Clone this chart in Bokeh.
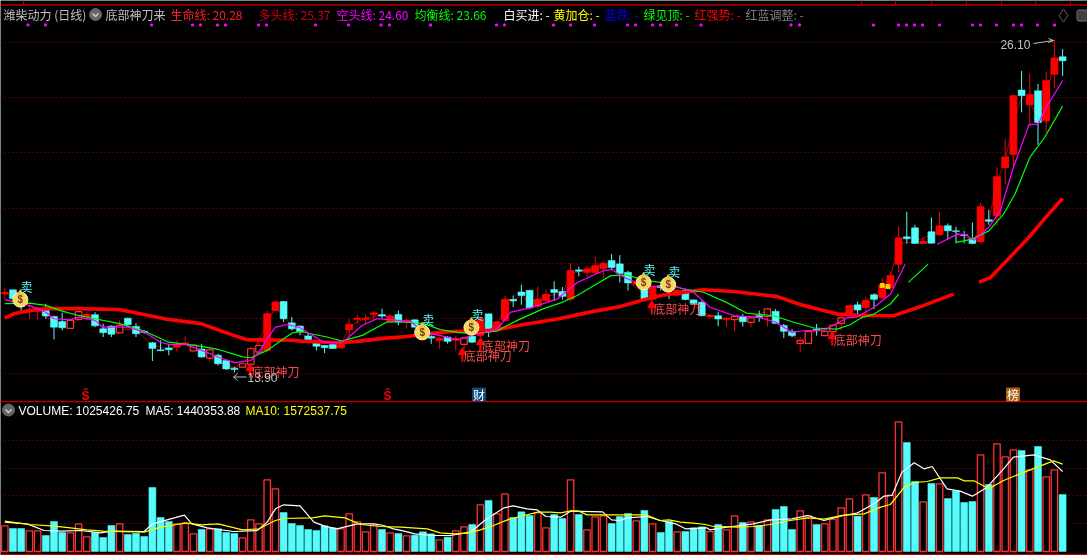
from bokeh.plotting import figure
from bokeh.models import Label, FixedTicker, Range1d, Grid
from bokeh.core.properties import value
from bokeh.embed import file_html
from bokeh.resources import INLINE
import numpy as np

nan = float("nan")

opens = [16.79,16.93,16.54,16.15,16.15,16.17,15.95,15.77,15.52,15.85,15.95,16.02,15.50,15.60,15.35,15.89,15.59,15.41,14.99,14.73,
14.80,14.83,14.93,14.69,14.76,14.43,14.53,14.34,14.06,14.10,14.20,14.65,14.71,16.17,16.50,15.72,15.60,15.24,14.98,14.89,
14.93,14.80,15.47,15.85,15.85,16.03,16.02,15.75,16.03,15.75,15.83,15.56,15.22,15.08,15.20,15.10,14.93,15.23,15.26,16.05,
15.44,15.81,16.58,16.85,16.91,16.33,16.54,16.94,16.87,16.59,17.66,17.57,17.57,17.72,18.00,17.88,17.57,17.14,16.98,16.59,
17.08,17.08,16.74,16.90,16.56,16.47,15.95,15.98,15.85,15.84,15.95,15.74,15.98,15.96,16.14,15.62,15.40,14.97,14.97,15.49,
15.25,15.40,15.70,15.98,16.38,16.29,16.75,16.65,17.02,17.87,18.87,19.20,18.63,19.06,18.95,19.28,19.09,18.95,18.80,18.70,
19.50,19.64,21.41,21.90,24.25,23.71,24.22,23.12,24.83,25.47]
highs = [17.00,16.93,16.60,16.36,16.32,16.42,15.98,16.09,15.85,16.15,16.11,16.11,15.69,15.63,15.81,15.91,15.71,15.45,15.02,15.08,
14.93,15.08,15.22,14.93,14.95,14.77,14.59,14.36,14.12,14.24,14.83,15.20,16.17,16.54,16.52,15.93,15.62,15.38,15.00,14.91,
14.95,14.95,15.87,16.02,16.05,16.15,16.24,16.03,16.17,15.87,15.85,15.60,15.26,15.20,15.23,15.26,15.20,15.30,15.95,16.05,
15.78,16.72,16.72,17.12,16.93,17.05,16.93,17.24,17.03,17.91,17.78,17.81,18.14,17.94,18.24,18.20,17.63,17.29,17.00,17.08,
17.10,17.20,16.96,16.98,16.58,16.53,16.04,16.13,15.92,15.98,16.04,15.93,16.17,16.25,16.23,15.68,15.49,15.19,15.43,15.68,
15.43,15.66,15.98,16.39,16.50,16.65,16.80,17.36,17.57,19.24,19.79,19.31,18.83,19.58,19.79,19.36,19.24,19.09,19.39,20.11,
19.86,21.42,22.45,24.04,24.95,24.86,24.47,24.93,26.10,25.75]
lows = [16.60,16.60,16.11,15.87,15.85,15.87,15.11,15.44,15.50,15.83,15.81,15.56,15.20,15.20,15.32,15.56,15.20,15.32,14.32,14.68,
14.53,14.67,14.89,14.67,14.44,14.32,14.16,14.00,13.90,14.08,14.15,14.63,14.65,16.15,15.75,15.44,15.26,15.05,14.71,14.61,
14.76,14.78,15.08,15.69,15.69,15.81,15.87,15.72,15.63,15.50,15.54,15.20,14.95,14.77,14.95,14.71,14.71,14.98,15.20,15.20,
15.40,15.75,16.30,16.38,16.24,16.24,16.50,16.52,16.57,16.50,17.42,17.39,17.51,17.36,17.69,17.20,16.90,17.08,16.56,16.56,
16.90,16.59,16.72,16.55,16.41,15.96,15.86,15.59,15.58,15.41,15.58,15.56,15.76,15.58,15.68,15.16,15.19,14.64,14.95,15.25,
15.23,15.25,15.46,15.90,16.04,15.92,16.22,16.60,16.90,17.57,18.63,18.61,18.61,18.62,18.90,18.79,18.63,18.63,18.60,18.63,
19.31,19.28,20.80,21.42,23.43,22.94,22.24,22.70,24.32,24.77]
closes = [16.83,16.60,16.32,16.20,16.20,15.97,15.56,15.54,15.81,16.13,16.03,15.61,15.36,15.30,15.63,15.65,15.32,15.37,14.78,14.70,
14.73,14.89,14.98,14.90,14.47,14.73,14.22,14.03,14.01,14.22,14.77,14.89,16.05,16.48,15.87,15.50,15.38,15.10,14.86,14.81,
14.78,14.93,15.66,15.89,15.89,16.08,15.97,15.97,15.75,15.81,15.56,15.26,15.16,15.14,15.04,15.14,15.16,15.01,15.87,15.50,
15.75,16.58,16.52,16.72,16.27,16.58,16.76,16.83,16.69,17.63,17.61,17.69,17.81,17.90,17.75,17.53,17.18,17.20,16.59,17.04,
17.02,17.04,16.90,16.57,16.43,15.98,15.98,15.86,15.88,15.96,15.76,15.90,15.92,16.23,15.70,15.41,15.25,15.07,15.41,15.43,
15.41,15.64,15.90,16.35,16.19,16.53,16.58,17.08,17.45,18.83,18.80,18.63,18.70,18.64,19.27,19.09,19.07,18.92,18.63,19.97,
19.44,21.07,21.80,24.04,24.04,24.08,23.06,24.59,25.42,25.32]
volume_k = [462,414,414,372,372,288,540,342,336,498,264,342,252,468,498,306,324,270,1152,612,
540,498,504,318,396,408,408,342,324,246,570,498,1290,1128,702,504,468,396,378,462,
426,408,678,534,354,474,396,336,324,282,294,354,318,210,258,372,444,486,840,918,
678,1038,612,714,648,696,426,666,594,1290,666,390,624,642,504,630,684,552,738,498,
342,540,354,360,426,444,360,486,390,642,522,534,468,570,756,810,396,732,642,486,
498,582,786,948,636,1020,972,1416,1014,2334,1962,1260,894,1224,1218,954,1092,882,900,1740,
1206,1938,1704,1830,1818,1470,1890,1344,1470,1026]
hollow_days = [8,9,14,23,25,29,30,31,56,89,91,93,97,98,100,101,102]

life_day = [0,1.1,3.1,4.8,8.8,13.9,16.5,19.8,23.9,27.9,29.6,35.2,36,40.9,42.9,46.2,49.1,51.9,55.2,57.6,60,63.3,67.4,71.8,75.1,77.5,80,85.2,88.9,94.2,97,101.5,104,108.4,112,115.7,nan,118.8,120.2,122.2,124.7,127.1,129]
life_val = [15.89,16.05,16.17,16.24,16.24,16.21,16.05,15.85,15.69,15.26,15.10,15.08,15.05,14.99,15.04,15.15,15.22,15.34,15.41,15.38,15.47,15.66,15.86,16.14,16.32,16.53,16.72,16.93,16.87,16.68,16.39,16.04,16.00,15.98,16.35,16.77,nan,17.20,17.38,18.00,18.79,19.64,20.28]
long_day = [0,2,4,6,8,10,12,14,16,18,20,22,24,26,28,30,32,33,35,37,39,41,42,44,46,48,50,52,54,56,58,60,61,63,64,66,68,69,71,73,75,76,78,79,81,83,85,87,90,93,95,97,99,101,103,105,107,108,109,111,113,115,118,119,120,121,122,123,124,125,126,127,128,129]
long_val = [16.8,16.5,16.2,15.7,15.65,16.0,15.5,15.5,15.45,14.9,14.75,14.95,14.6,14.3,14.05,14.5,15.7,16.3,15.6,15.15,14.85,14.9,15.6,15.9,16.0,15.85,15.7,15.2,15.1,15.05,15.6,15.65,16.3,16.75,16.4,16.7,16.8,17.5,17.7,17.85,17.6,17.25,16.75,17.0,17.05,16.7,16.1,15.9,15.85,16.15,15.5,15.05,15.45,15.6,16.25,16.5,17.0,17.4,18.6,18.7,18.95,19.15,18.75,19.1,19.45,20.9,21.65,23.1,23.98,23.8,23.2,23.98,25.38,25.37]
short_day = [0,3,5,6,8,9,11,12,14,15,17,19,20,22,24,26,28,30,31,32,33,34.5,36,38.9,40.9,41.5,43.6,45.4,47.9,49.5,51.1,53,55.2,57.6,60,61.7,64.1,67.4,69.8,73,74,75.5,77,78.7,81.6,84,86,89,92,94,96,97.4,100,102.7,104,106,108,109.8,nan,113.7,116.2,117.2,118.2,120,121.4,123,124.9,126,127,129]
short_val = [16.57,16.36,16.11,15.87,15.83,15.93,15.81,15.56,15.56,15.56,15.38,15.01,14.93,14.93,14.71,14.47,14.26,14.34,14.65,15.14,15.56,15.66,15.54,15.01,14.98,15.08,15.63,15.87,15.81,15.77,15.38,15.26,15.10,15.32,15.47,16.11,16.27,16.60,17.20,17.63,17.67,17.39,17.20,17.06,17.08,16.84,16.29,15.98,15.92,15.74,15.37,15.43,15.46,15.90,15.94,16.29,16.77,17.87,nan,18.60,18.97,18.95,18.75,19.22,19.83,21.41,22.98,23.00,23.61,24.60]
bal_day = [0,3,5,7,9,11,14,17,20,24,26,29,30,32,34,35,36,37.3,39.3,41.1,43.6,46.6,48.6,51.1,53.1,55.2,57.6,60,62.5,65.7,67.8,69.8,71.8,73.9,75.9,77.9,79.9,82.8,85.2,88,90.5,93.8,96.2,98.7,101.5,103.1,104.4,106,108,109,nan,110.2,112.6,nan,116,118,120,121.8,123.2,125,126.8,129]
bal_val = [16.42,16.44,16.36,16.15,15.99,15.87,15.69,15.42,15.01,14.86,14.75,14.47,14.44,14.71,15.14,15.34,15.41,15.32,15.20,15.05,15.26,15.75,15.75,15.69,15.47,15.37,15.32,15.42,15.81,16.24,16.45,16.72,17.08,17.45,17.47,17.29,17.20,16.96,16.84,16.47,16.07,15.98,15.74,15.53,15.49,15.65,15.90,16.04,16.41,16.77,nan,17.20,17.87,nan,18.67,18.79,19.09,19.70,20.44,21.78,22.51,23.66]

ma5_day = [0,2.7,4.8,6.8,9.2,11.7,13,17,18,19.8,21.9,22.8,24.7,27.9,30.8,32,33,34,36,37.7,39,40.5,43,45,46.2,47.4,48.7,50,52.3,54.3,56.8,58.4,59.6,60.9,62,63.7,64.9,66,67.8,69,72.9,74,75,75.9,78.3,79.9,81.8,83,85.6,86,87.3,88.7,91.3,93.4,96,97.9,99.9,102.3,103.9,106,107.2,108.2,109.4,110.9,112.1,113.1,114.9,116.5,118,119.8,121.8,123,125.5,127.5,129]
ma5_k = [528,498,378,366,378,336,366,360,498,570,654,498,426,360,378,528,768,840,822,528,456,408,498,498,468,408,366,318,288,288,348,546,666,786,822,768,750,630,618,726,714,570,558,606,630,558,498,408,426,390,420,450,498,570,588,648,558,648,690,858,996,1008,1428,1596,1488,1530,1128,1086,996,1158,1488,1698,1740,1650,1440]
ma10_day = [0,1.5,3,6,8,10,12,17,19,21,22,24,26,28,29,31,33,34,37.5,39,41.5,43.4,45.8,48.3,51.5,53.1,54.8,56.4,58,59.6,61.3,63.3,65,66.5,67.8,69,70,71,75.5,78.2,79.9,81,82.4,84,85.4,86.4,87.3,89.3,91.3,93.4,95.8,97.9,99.9,102.3,104.8,106.8,108,109.7,110.9,112.5,114.1,116.2,117,118.2,120,121.8,123.8,125.9,127.9,129]
ma10_k = [546,516,486,456,426,390,366,348,438,486,516,480,498,426,390,408,558,594,606,642,606,486,450,438,408,336,318,330,390,468,570,648,708,708,696,732,726,660,660,660,558,570,528,510,486,450,450,438,450,486,558,606,582,654,678,798,846,1158,1242,1260,1326,1326,1272,1272,1128,1278,1398,1518,1632,1572]

sell_days = [1.9,50.9,56.9,77.9,80.9]
sell_prices = [16.57,15.37,15.55,17.20,17.12]
blade_days = [29.9,58,55.8,78.9,100.9]
blade_prices = [13.94,14.89,14.52,16.25,15.11]
price_ticks = [13.86,15.88,17.89,19.91,21.96,23.98,25.99]
vol_ticks = [500,1000,1500,2000]

n = len(opens)
days = np.arange(n)
opens, highs, lows, closes = map(np.array, (opens, highs, lows, closes))
up = closes >= opens
hollow = np.isin(days, hollow_days)

W, H = 1087, 555
PY = lambda Y: 13.9 + (372 - Y) * 0.03664   # screen helpers for decorations only
PX = lambda X: (X - 4.3) / 8.2
VY = lambda Y: (551 - Y) * 18.0

p = figure(width=W, height=H, x_range=(PX(0), PX(W)), y_range=(PY(H), PY(0)), output_backend="svg",
           toolbar_location=None, min_border=0, background_fill_color="black",
           border_fill_color="black", outline_line_color=None)
p.extra_y_ranges = {"vol": Range1d(VY(H), VY(0))}
p.xaxis.visible = False
p.yaxis.visible = False
p.xgrid.visible = False
GRID = dict(grid_line_color="#a00000", grid_line_dash="1 3", grid_line_width=1)
p.ygrid.ticker = FixedTicker(ticks=price_ticks)
for k, val in GRID.items():
    setattr(p.ygrid, k, val)
p.add_layout(Grid(dimension=1, ticker=FixedTicker(ticks=vol_ticks), y_range_name="vol", **GRID))

RED, CYAN = "#ff0000", "#54fcfc"
CJK = value("Noto Sans CJK SC")

def lab(x, y, t, c, font="Noto Sans CJK SC"):
    p.add_layout(Label(x=x, y=H - y, x_units="screen", y_units="screen", text=t, text_color=c,
                       text_font=font, text_font_size="12px", text_baseline="middle"))

# frame rules
for Y in (4.5, 401, 554):
    p.segment(x0=[PX(0)], x1=[PX(W)], y0=[PY(Y)], y1=[PY(Y)], line_color="#b00000", line_width=1.5)
tick_px = [23, 861, 895, 931, 966, 1001, 1035, 1070]
p.segment(x0=[PX(t) for t in tick_px], x1=[PX(t) for t in tick_px], y0=PY(0), y1=PY(4), line_color="#b00000")
dots_px = [27.5,45,151,192,200,217,225,258,266,315,348,380.5,389,430,496,504,553,570,594,627,635,652,660,676,700.5,790.5,799,873,898,906,914,922,939,972,980,996,1013,1021,1037,1054]
p.scatter([PX(d) for d in dots_px], [PY(24.5)] * len(dots_px), marker="square", size=2, color="#ff00ff")

# long line under the candles
p.line(long_day, long_val, line_color="#b00000", line_width=1)

# candles
p.segment(days[up], highs[up], days[up], lows[up], line_color=RED, line_width=1)
p.segment(days[~up], highs[~up], days[~up], lows[~up], line_color=CYAN, line_width=1)
fu = up & ~hollow
p.vbar(days[fu], 0.82, opens[fu], closes[fu], fill_color=RED, line_color=RED, line_width=1)
p.vbar(days[hollow], 0.78, opens[hollow], closes[hollow], fill_color="black", line_color="#ff3232", line_width=1.2)
p.vbar(days[~up], 0.85, closes[~up], opens[~up], fill_color=CYAN, line_color=CYAN, line_width=0.5)

# average lines
p.line(life_day, life_val, line_color="#ff0000", line_width=3.6)
p.line(bal_day, bal_val, line_color="#00ff00", line_width=1.2)
p.line(short_day, short_val, line_color="#ff00ff", line_width=1.2)

# yellow sparks
p.scatter([107, 107.7], [17.09, 17.05], marker="square", size=4, color="#ffd000")

# money bags and 卖
p.scatter(sell_days, sell_prices, marker="circle", size=15, fill_color="#f5d75a", line_color="#fff2b0", line_width=1)
p.scatter(sell_days, np.array(sell_prices) + 0.24, marker="triangle", size=6, color="#f0c040")
p.text(sell_days, sell_prices, text=["$"] * 5, text_color="#7a3b20", text_font_size="10px", text_font_style="bold",
       text_align="center", text_baseline="middle", text_font=value("Liberation Sans"))
p.text(sell_days, sell_prices, text=["卖"] * 5, text_color=CYAN, text_font_size="12px", x_offset=6, y_offset=-13,
       text_align="center", text_baseline="middle", text_font=CJK)

# 底部神刀 marks
p.segment(blade_days, np.array(blade_prices) + 0.18, blade_days, np.array(blade_prices) - 0.22, line_color=RED, line_width=2)
p.scatter(blade_days, np.array(blade_prices) + 0.12, marker="triangle", size=8, color=RED)
p.text(blade_days, blade_prices, text=["底部神刀"] * 5, text_color="#ff4848", text_font_size="12px", x_offset=1.5,
       text_baseline="middle", text_font=CJK)

# extreme labels
p.text([128], [PY(44)], text=["26.10"], text_color="#c0c0c0", text_font_size="12px", x_offset=-54,
       text_baseline="middle", text_font=value("Liberation Sans"))
p.line([PX(1033), PX(1053)], [PY(43), PY(40)], line_color="#c0c0c0")
p.line([PX(1048), PX(1053), PX(1048)], [PY(38), PY(40), PY(42)], line_color="#c0c0c0")
p.text([PX(247)], [PY(377)], text=["13.90"], text_color="#c0c0c0", text_font_size="12px",
       text_baseline="middle", text_font=value("Liberation Sans"))
p.line([PX(233), PX(246)], [PY(376.5), PY(376.5)], line_color="#c0c0c0")
p.line([PX(237), PX(233), PX(237)], [PY(373), PY(376.5), PY(380)], line_color="#c0c0c0")

# bottom event marks
p.text([PX(85), PX(387)], [PY(395)] * 2, text=["Ŝ", "Ŝ"], text_color=RED, text_font_size="12px", text_font_style="bold",
       text_align="center", text_baseline="middle", text_font=value("Liberation Sans"))
p.rect([PX(478.5), PX(1012.5)], [PY(394)] * 2, width=13, height=13, width_units="screen", height_units="screen",
       color=["#104878", "#a86010"])
p.text([PX(478.5), PX(1012.5)], [PY(394)] * 2, text=["财", "榜"], text_color="white", text_font_size="12px",
       text_align="center", text_baseline="middle", text_font=CJK)

# header
for x, t, c in [(3, "潍柴动力 (日线)", "#c0c0c0"), (105, "底部神刀来", "#c0c0c0"), (170, "生命线: 20.28", "#ff2020"),
                (258, "多头线: 25.37", "#d00010"), (336, "空头线: 24.60", "#ff00ff"), (414, "均衡线: 23.66", "#00ff00"),
                (503, "白买进: -", "#ffffff"), (553, "黄加仓: -", "#ffff00"), (604, "蓝跌: -", "#0000ff"),
                (643, "绿见顶: -", "#00ff00"), (694, "红强势: -", "#ff0000"), (745, "红蓝调整: -", "#808080")]:
    lab(x, 14, t, c)
p.scatter([PX(95)], [PY(14)], marker="circle", size=12, color="#666666")
p.line([PX(92), PX(95), PX(98)], [PY(13), PY(16), PY(13)], line_color="#d0d0d0", line_width=1.5)
p.scatter([PX(1063)], [PY(15)], marker="diamond", size=13, fill_color=None, line_color="#606060")
p.rect([PX(1083)], [PY(15)], width=13, height=11, width_units="screen", height_units="screen",
       fill_color="#404040", line_color="#707070", border_radius=2)

# volume panel
vol = np.array(volume_k, dtype=float)
p.vbar(days[up], 0.78, 0, vol[up], fill_color="black", line_color="#ff3232", line_width=1.3, y_range_name="vol")
p.vbar(days[~up], 0.85, 0, vol[~up], fill_color=CYAN, line_color=CYAN, line_width=0.5, y_range_name="vol")
p.line(ma5_day, ma5_k, line_color="#ffffff", line_width=1.2, y_range_name="vol")
p.line(ma10_day, ma10_k, line_color="#ffff00", line_width=1.2, y_range_name="vol")
lab(18, 410, "VOLUME: 1025426.75", "#ffffff", font="Liberation Sans")
lab(145, 410, "MA5: 1440353.88", "#ffffff", font="Liberation Sans")
lab(245, 410, "MA10: 1572537.75", "#ffff00", font="Liberation Sans")
p.scatter([PX(8)], [PY(409.5)], marker="circle", size=12, color="#666666")
p.line([PX(5), PX(8), PX(11)], [PY(409), PY(412), PY(409)], line_color="#d0d0d0", line_width=1.5)

p.styles = {"position": "fixed", "left": "0px", "top": "0px"}

open("out.html", "w").write(file_html(p, INLINE))
